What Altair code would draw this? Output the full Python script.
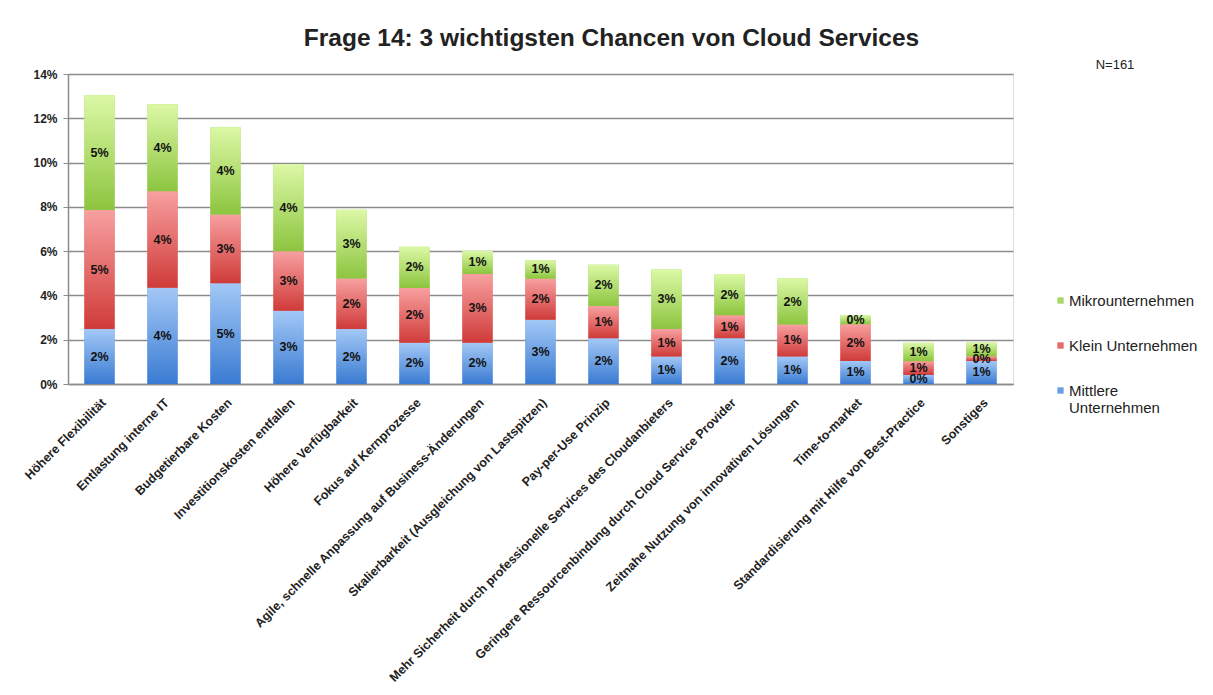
import altair as alt
import pandas as pd

categories = [
    "Höhere Flexibilität",
    "Entlastung interne IT",
    "Budgetierbare Kosten",
    "Investitionskosten entfallen",
    "Höhere Verfügbarkeit",
    "Fokus auf Kernprozesse",
    "Agile, schnelle Anpassung auf Business-Änderungen",
    "Skalierbarkeit (Ausgleichung von Lastspitzen)",
    "Pay-per-Use Prinzip",
    "Mehr Sicherheit durch professionelle Services des Cloudanbieters",
    "Geringere Ressourcenbindung durch Cloud Service Provider",
    "Zeitnahe Nutzung von innovativen Lösungen",
    "Time-to-market",
    "Standardisierung mit Hilfe von Best-Practice",
    "Sonstiges",
]

mittlere = [0.0248, 0.0435, 0.0455, 0.0331, 0.0248, 0.0186, 0.0186, 0.0290,
            0.0207, 0.0124, 0.0207, 0.0124, 0.0104, 0.0041, 0.0104]
klein = [0.0538, 0.0435, 0.0311, 0.0269, 0.0228, 0.0248, 0.0311, 0.0186,
         0.0145, 0.0124, 0.0104, 0.0145, 0.0166, 0.0062, 0.0021]
mikro = [0.0518, 0.0393, 0.0393, 0.0393, 0.0311, 0.0186, 0.0104, 0.0083,
         0.0186, 0.0269, 0.0186, 0.0207, 0.0041, 0.0083, 0.0062]

series_names = ["Mittlere Unternehmen", "Klein Unternehmen", "Mikrounternehmen"]
legend_order = ["Mikrounternehmen", "Klein Unternehmen", "Mittlere Unternehmen"]
y_ticks = [0, 0.02, 0.04, 0.06, 0.08, 0.10, 0.12, 0.14]
title_text = "Frage 14: 3 wichtigsten Chancen von Cloud Services"
n_label = "N=161"

solid = {"Mikrounternehmen": "#a8d86a", "Klein Unternehmen": "#e86a6a", "Mittlere Unternehmen": "#6a9fe6"}
grad = {
    "Mittlere Unternehmen": ("#a3c8f6", "#3a7bd2"),
    "Klein Unternehmen": ("#f8a0a0", "#cf3b39"),
    "Mikrounternehmen": ("#dcf8a6", "#8cc53f"),
}

rows = []
for s_idx, (name, vals) in enumerate(zip(series_names, [mittlere, klein, mikro])):
    for c, v in zip(categories, vals):
        rows.append({"cat": c, "series": name, "value": v, "order": s_idx})
df = pd.DataFrame(rows)

x_enc = alt.X(
    "cat:N",
    sort=categories,
    scale=alt.Scale(paddingInner=0.52, paddingOuter=0.26),
    axis=alt.Axis(
        title=None, labelAngle=-45, labelFontSize=12.5, labelFontWeight="bold",
        labelColor="#222222", labelLimit=600, ticks=False, domainColor="#8c8c8c",
        domainWidth=1.5, labelPadding=12, labelFont="Liberation Sans",
    ),
)
y_scale = alt.Scale(domain=[0, 0.14], nice=False)

base = alt.Chart(df).transform_stack(
    stack="value", groupby=["cat"], as_=["y0", "y1"],
    sort=[alt.SortField("order", order="ascending")],
).transform_calculate(mid="(datum.y0 + datum.y1) / 2")

solid_layer = base.mark_bar().encode(
    x=x_enc,
    y=alt.Y(
        "y0:Q", scale=y_scale, title=None,
        axis=alt.Axis(
            values=y_ticks, format=".0%", labelFontSize=12, labelFontWeight="bold",
            labelColor="#222222", gridColor="#8c8c8c", gridWidth=1.5,
            domainColor="#8c8c8c", domainWidth=1.5, tickColor="#8c8c8c",
            tickSize=5, labelPadding=6, labelFont="Liberation Sans",
        ),
    ),
    y2="y1:Q",
    color=alt.Color(
        "series:N",
        scale=alt.Scale(domain=legend_order, range=[solid[s] for s in legend_order]),
        legend=alt.Legend(
            title=None, orient="none", legendX=985, legendY=219,
            symbolType="square", symbolSize=40, symbolStrokeWidth=0,
            labelFontSize=15, labelFont="Liberation Sans", labelColor="#222222",
            rowPadding=29, labelLimit=220, labelOffset=1,
            labelExpr="datum.label == 'Mittlere Unternehmen' ? ['Mittlere', 'Unternehmen'] : datum.label",
        ),
    ),
)

grad_layers = []
for name in series_names:
    top, bottom = grad[name]
    g = alt.Gradient(
        gradient="linear", x1=0, x2=0, y1=0, y2=1,
        stops=[alt.GradientStop(color=top, offset=0), alt.GradientStop(color=bottom, offset=1)],
    )
    grad_layers.append(
        base.transform_filter(alt.datum.series == name)
        .mark_bar(color=g)
        .encode(x=x_enc, y=alt.Y("y0:Q", scale=y_scale), y2="y1:Q")
    )

text_layer = base.mark_text(
    fontSize=12.5, fontWeight="bold", color="#111111", font="Liberation Sans"
).encode(
    x=x_enc,
    y=alt.Y("mid:Q", scale=y_scale),
    text=alt.Text("value:Q", format=".0%"),
)

n_layer = alt.Chart(pd.DataFrame({"t": [n_label]})).mark_text(
    fontSize=13, color="#222222", font="Liberation Sans"
).encode(text="t:N", x=alt.value(1047), y=alt.value(-9))

chart = alt.layer(solid_layer, *grad_layers, text_layer, n_layer).properties(
    width=945,
    height=310,
    title=alt.Title(
        title_text, fontSize=24.5, fontWeight="bold", font="Liberation Sans",
        color="#222222", anchor="middle", dx=71, offset=8,
    ),
    autosize=alt.AutoSizeParams(type="none"),
    padding={"left": 60, "top": 66, "right": 190, "bottom": 300},
).configure_view(stroke=None).configure(background="white")

chart.save("out.html", embed_options={"renderer": "svg", "actions": False})
